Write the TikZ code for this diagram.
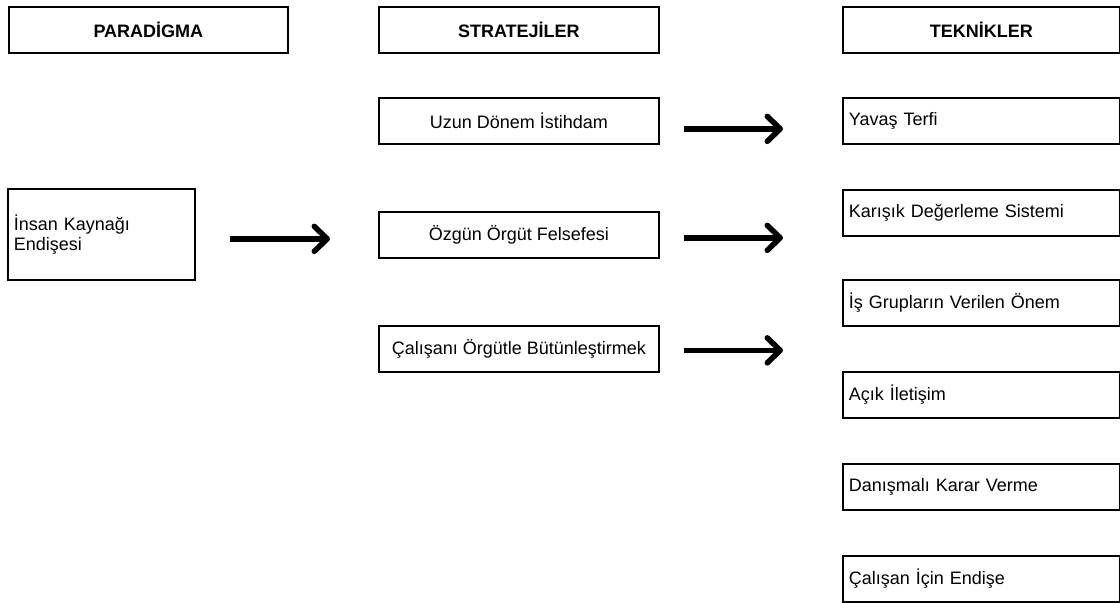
\documentclass[tikz,border=0pt]{standalone}
\usepackage{fontspec}
\setmainfont{Liberation Sans}
\usetikzlibrary{arrows.meta,calc}

\tikzset{
  box/.style={draw, line width=1.7pt, rectangle, inner sep=0pt, anchor=north west,
              font=\fontsize{18}{20}\selectfont},
  headbox/.style={box, minimum width=279pt, minimum height=46pt,
                  font=\fontsize{18}{20}\selectfont\bfseries},
  stratbox/.style={box, minimum width=280pt, minimum height=46pt, align=center},
  techbox/.style={box, text width=265pt, inner xsep=6pt, minimum height=46pt, align=left},
  leftbox/.style={box, text width=175pt, inner xsep=6pt, minimum height=91pt, align=left},
  flow/.style={line width=5.5pt,
               -{Straight Barb[length=13pt, width=25pt, line width=5.5pt, round]}}
}

\begin{document}
\begin{tikzpicture}[x=1pt, y=-1pt]
  \useasboundingbox (0,0) rectangle (1120,603);

  % column headings
  \node[headbox] (hpar) at (8,6) {PARAD\.IGMA};
  \node[headbox, minimum width=280pt] (hstr) at (378,6) {STRATEJ\.ILER};
  \node[headbox, minimum width=277pt] (htek) at (842,6) {TEKN\.IKLER};

  % paradigm
  \node[leftbox] (insan) at (7,188) {İnsan Kaynağı\\Endişesi};

  % strategies
  \node[stratbox] (uzun) at (378,97) {Uzun Dönem İstihdam};
  \node[stratbox] (ozgun) at (378,211) {Özgün Örgüt Felsefesi};
  \node[stratbox] (calisani) at (378,325) {Çalışanı Örgütle Bütünleştirmek};

  % techniques
  \node[techbox] (yavas) at (842,97) {Yavaş Terfi};
  \node[techbox] (karisik) at (842,189) {Karışık Değerleme Sistemi};
  \node[techbox] (isgrup) at (842,279) {İş Grupların Verilen Önem};
  \node[techbox] (acik) at (842,371) {Açık İletişim};
  \node[techbox] (danis) at (842,463) {Danışmalı Karar Verme};
  \node[techbox] (calisan) at (842,555) {Çalışan İçin Endişe};

  % arrow end points
  \coordinate (a0s) at ([xshift=34pt, yshift=-4.5pt]insan.east);
  \coordinate (a0e) at ($(ozgun.west |- a0s)+(-48,0)$);
  \coordinate (a1s) at ([xshift=24pt, yshift=-8pt]uzun.east);
  \coordinate (a1e) at ($(yavas.west |- a1s)+(-59,0)$);
  \coordinate (a2s) at ([xshift=24pt, yshift=-3pt]ozgun.east);
  \coordinate (a2e) at ($(karisik.west |- a2s)+(-59,0)$);
  \coordinate (a3s) at ([xshift=24pt, yshift=-1.5pt]calisani.east);
  \coordinate (a3e) at ($(isgrup.west |- a3s)+(-59,0)$);

  % arrows
  \draw[flow] (a0s) -- (a0e);
  \draw[flow] (a1s) -- (a1e);
  \draw[flow] (a2s) -- (a2e);
  \draw[flow] (a3s) -- (a3e);
\end{tikzpicture}
\end{document}
